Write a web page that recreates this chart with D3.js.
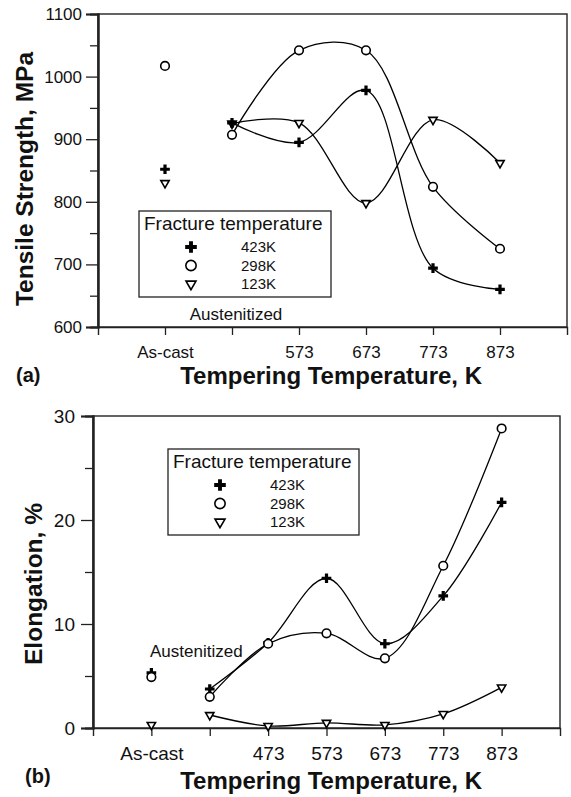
<!DOCTYPE html>
<html>
<head>
<meta charset="utf-8">
<script src="https://cdn.jsdelivr.net/npm/d3@7"></script>
<style>
  body { margin: 0; background: #fff; }
  svg { display: block; font-family: "Liberation Sans", Arial, sans-serif; }
</style>
</head>
<body>
<svg id="chart" width="571" height="797"></svg>
<script>
// panel (a) - tensile strength
var labelsA = ["As-cast", "", "573", "673", "773", "873"];
var a423 = [852, 926, 895, 978, 694, 660];
var a298 = [1017, 907, 1042, 1042, 824, 725];
var a123 = [830, 925, 926, 798, 931, 862];
var yTicksA = [600, 700, 800, 900, 1000, 1100];

// panel (b) - elongation
var labelsB = ["As-cast", "", "473", "573", "673", "773", "873"];
var b423 = [5.3, 3.75, 8.2, 14.4, 8.1, 12.7, 21.7];
var b298 = [4.9, 3.0, 8.1, 9.1, 6.7, 15.6, 28.8];
var b123 = [0.3, 1.25, 0.2, 0.5, 0.3, 1.35, 3.9];
var yTicksB = [0, 10, 20, 30];

var legendNames = ["423K", "298K", "123K"];
var markers = ["plus", "circle", "tri"];

var svg = d3.select("#chart");

function marker(g, type, x, y, s) {
  s = s || 1;
  if (type == "plus") {
    g.append("path")
      .attr("d", d3.symbol().type(d3.symbolCross).size(52 * s * s)())
      .attr("transform", "translate(" + x + "," + y + ")")
      .attr("fill", "#000");
  } else if (type == "circle") {
    g.append("circle")
      .attr("cx", x).attr("cy", y).attr("r", 4.3 * s)
      .attr("fill", "#fff").attr("stroke", "#000").attr("stroke-width", 1.6);
  } else {
    g.append("path")
      .attr("d", d3.symbol().type(d3.symbolTriangle).size(30 * s * s)())
      .attr("transform", "translate(" + x + "," + y + ") rotate(180)")
      .attr("fill", "#fff").attr("stroke", "#000").attr("stroke-width", 1.6);
  }
}

function panel(o) {
  var g = svg.append("g");
  var n = o.labels.length;
  var x = d3.scaleLinear().domain([-1, n]).range([o.left, o.right]);
  var y = d3.scaleLinear().domain(o.yDomain).range([o.bottom, o.top]);

  // frame
  g.append("rect")
    .attr("x", o.left).attr("y", o.top)
    .attr("width", o.right - o.left).attr("height", o.bottom - o.top)
    .attr("fill", "none").attr("stroke", "#222").attr("stroke-width", 1.4);

  // y axis
  var yAxis = d3.axisLeft(y).tickValues(o.yTicks).tickSize(12).tickPadding(o.yPad).tickFormat(d3.format("d"));
  var ya = g.append("g").attr("transform", "translate(" + o.left + ",0)").call(yAxis);
  var minor = d3.axisLeft(y).tickValues(o.yMinor).tickSize(8).tickFormat("");
  var ym = g.append("g").attr("transform", "translate(" + o.left + ",0)").call(minor);
  [ya, ym].forEach(function(a) {
    a.select(".domain").attr("stroke", "#222").attr("stroke-width", 2);
    a.selectAll(".tick line").attr("stroke", "#222").attr("stroke-width", 1.3);
  });
  ya.selectAll("text").attr("font-size", o.tickFont).attr("fill", "#111")
    .attr("font-family", "Liberation Sans, Arial, sans-serif");

  // x axis
  var xAxis = d3.axisBottom(x).tickValues(d3.range(n)).tickSize(8).tickPadding(11)
    .tickFormat(function(d) { return o.labels[d]; });
  var xa = g.append("g").attr("transform", "translate(0," + o.bottom + ")").call(xAxis);
  xa.select(".domain").attr("stroke", "#222").attr("stroke-width", 1.4);
  xa.selectAll(".tick line").attr("stroke", "#222").attr("stroke-width", 1.3);
  xa.selectAll("text").attr("font-size", o.tickFont).attr("fill", "#111")
    .attr("font-family", "Liberation Sans, Arial, sans-serif");

  // curves (tempered series, from Austenitized on)
  var line = d3.line()
    .x(function(d) { return x(d.i); })
    .y(function(d) { return y(d.v); })
    .curve(d3.curveCatmullRom.alpha(0.5));

  o.series.forEach(function(s) {
    var pts = s.map(function(v, i) { return {i: i, v: v}; }).slice(1);
    g.append("path").datum(pts)
      .attr("d", line)
      .attr("fill", "none").attr("stroke", "#000").attr("stroke-width", 1.3);
  });

  // markers
  var order = [2, 0, 1];
  order.forEach(function(k) {
    o.series[k].forEach(function(v, i) {
      marker(g, markers[k], x(i), y(v));
    });
  });

  // legend
  var lg = g.append("g");
  lg.append("rect")
    .attr("x", o.legend.x).attr("y", o.legend.y)
    .attr("width", o.legend.w).attr("height", o.legend.h)
    .attr("fill", "#fff").attr("stroke", "#222").attr("stroke-width", 1.3);
  lg.append("text")
    .attr("x", o.legend.x + 5).attr("y", o.legend.y + 19)
    .attr("font-size", 19).attr("fill", "#111")
    .text("Fracture temperature");
  legendNames.forEach(function(name, k) {
    var ry = o.legend.y + 36 + k * 18.5;
    marker(lg, markers[k], o.legend.x + 52, ry, 1.2);
    lg.append("text")
      .attr("x", o.legend.x + 102).attr("y", ry + 5)
      .attr("font-size", 15).attr("fill", "#111")
      .text(name);
  });

  // austenitized label
  g.append("text")
    .attr("x", o.aust.x).attr("y", o.aust.y)
    .attr("text-anchor", o.aust.anchor)
    .attr("font-size", 17).attr("fill", "#111")
    .text("Austenitized");

  // titles
  g.append("text")
    .attr("transform", "translate(" + o.yTitle.x + "," + o.yTitle.y + ") rotate(-90)")
    .attr("text-anchor", "middle")
    .attr("font-size", 24.5).attr("font-weight", "bold").attr("fill", "#111")
    .text(o.yTitle.t);
  g.append("text")
    .attr("x", 482).attr("y", o.xTitleY)
    .attr("text-anchor", "end")
    .attr("font-size", 24).attr("font-weight", "bold").attr("fill", "#111")
    .text("Tempering Temperature, K");
  g.append("text")
    .attr("x", o.tag.x).attr("y", o.tag.y)
    .attr("font-size", 20).attr("font-weight", "bold").attr("fill", "#111")
    .text(o.tag.t);
}

panel({
  labels: labelsA, series: [a423, a298, a123],
  yDomain: [600, 1100], yTicks: yTicksA,
  yMinor: [650, 750, 850, 950, 1050],
  left: 98, right: 567, top: 14, bottom: 327,
  tickFont: 17, yPad: 4,
  yTitle: {x: 33, y: 179, t: "Tensile Strength, MPa"}, xTitleY: 384,
  legend: {x: 139, y: 211, w: 192, h: 86},
  aust: {x: 236, y: 320, anchor: "middle"},
  tag: {x: 16, y: 382, t: "(a)"}
});

panel({
  labels: labelsB, series: [b423, b298, b123],
  yDomain: [0, 30], yTicks: yTicksB,
  yMinor: [5, 15, 25],
  left: 93, right: 560, top: 416, bottom: 728,
  tickFont: 19, yPad: 6,
  yTitle: {x: 42, y: 584, t: "Elongation, %"}, xTitleY: 789,
  legend: {x: 168, y: 449, w: 191, h: 86},
  aust: {x: 150, y: 657, anchor: "start"},
  tag: {x: 25, y: 783, t: "(b)"}
});
</script>
</body>
</html>
